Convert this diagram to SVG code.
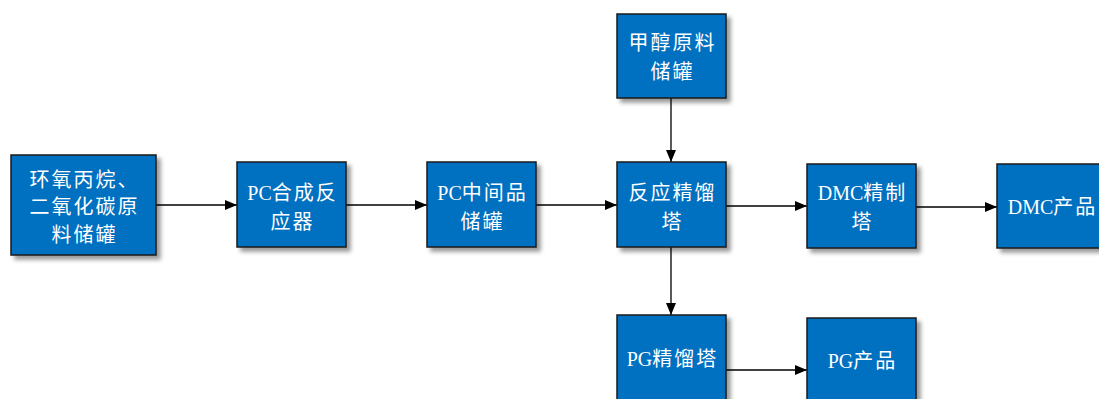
<svg xmlns="http://www.w3.org/2000/svg" width="1099" height="399" viewBox="0 0 1099 399">
<style>
.box{fill:#0070C0;stroke:#1a1a1a;stroke-width:1.5;filter:url(#sh)}
.t{fill:#ffffff;font-family:"Liberation Serif","Noto Sans CJK SC",serif;font-size:20px;text-anchor:middle;dominant-baseline:central}
.k{letter-spacing:2px}
.c{stroke:#000;stroke-width:1.3;fill:none;marker-end:url(#ah)}
</style>
<defs>
<filter id="sh" x="-20%" y="-20%" width="140%" height="140%">
<feDropShadow dx="4" dy="4" stdDeviation="2" flood-color="#000" flood-opacity="0.4"/>
</filter>
<marker id="ah" markerWidth="12" markerHeight="10" refX="12" refY="5" orient="auto" markerUnits="userSpaceOnUse">
<path d="M0,0 L12,5 L0,10 Z" fill="#000"/>
</marker>
</defs>
<g id="connectors">
<line class="c" x1="156" y1="205" x2="237" y2="205"/>
<line class="c" x1="346" y1="205" x2="427" y2="205"/>
<line class="c" x1="536" y1="205" x2="617" y2="205"/>
<line class="c" x1="726" y1="206" x2="807" y2="206"/>
<line class="c" x1="916" y1="207" x2="997" y2="207"/>
<line class="c" x1="671" y1="98" x2="671" y2="162"/>
<line class="c" x1="671" y1="247" x2="671" y2="315"/>
<line class="c" x1="726" y1="370" x2="807" y2="370"/>
</g>
<g id="n1"><rect class="box" x="11" y="155" width="145" height="100"/>
<text class="t k" x="84.5" y="180">环氧丙烷、</text><text class="t k" x="84.5" y="207">二氧化碳原</text><text class="t k" x="84.5" y="235">料储罐</text></g>
<g id="n2"><rect class="box" x="237" y="162" width="109" height="85"/>
<text class="t" x="292.5" y="193">PC<tspan class="k">合成反</tspan></text><text class="t k" x="292.5" y="222">应器</text></g>
<g id="n3"><rect class="box" x="427" y="162" width="109" height="85"/>
<text class="t" x="482.5" y="193">PC<tspan class="k">中间品</tspan></text><text class="t k" x="482.5" y="222">储罐</text></g>
<g id="n4"><rect class="box" x="617" y="162" width="109" height="85"/>
<text class="t k" x="672.5" y="193">反应精馏</text><text class="t k" x="672.5" y="222">塔</text></g>
<g id="n5"><rect class="box" x="617" y="14" width="109" height="84"/>
<text class="t k" x="672.5" y="43">甲醇原料</text><text class="t k" x="672.5" y="72">储罐</text></g>
<g id="n6"><rect class="box" x="807" y="164" width="109" height="84"/>
<text class="t" x="862.5" y="193">DMC<tspan class="k">精制</tspan></text><text class="t k" x="862.5" y="222">塔</text></g>
<g id="n7"><rect class="box" x="997" y="164" width="109" height="84"/>
<text class="t" x="1052.5" y="207">DMC<tspan class="k">产品</tspan></text></g>
<g id="n8"><rect class="box" x="617" y="315" width="109" height="100"/>
<text class="t" x="672.5" y="359">PG<tspan class="k">精馏塔</tspan></text></g>
<g id="n9"><rect class="box" x="807" y="318" width="109" height="100"/>
<text class="t" x="862.5" y="361">PG<tspan class="k">产品</tspan></text></g>
</svg>
